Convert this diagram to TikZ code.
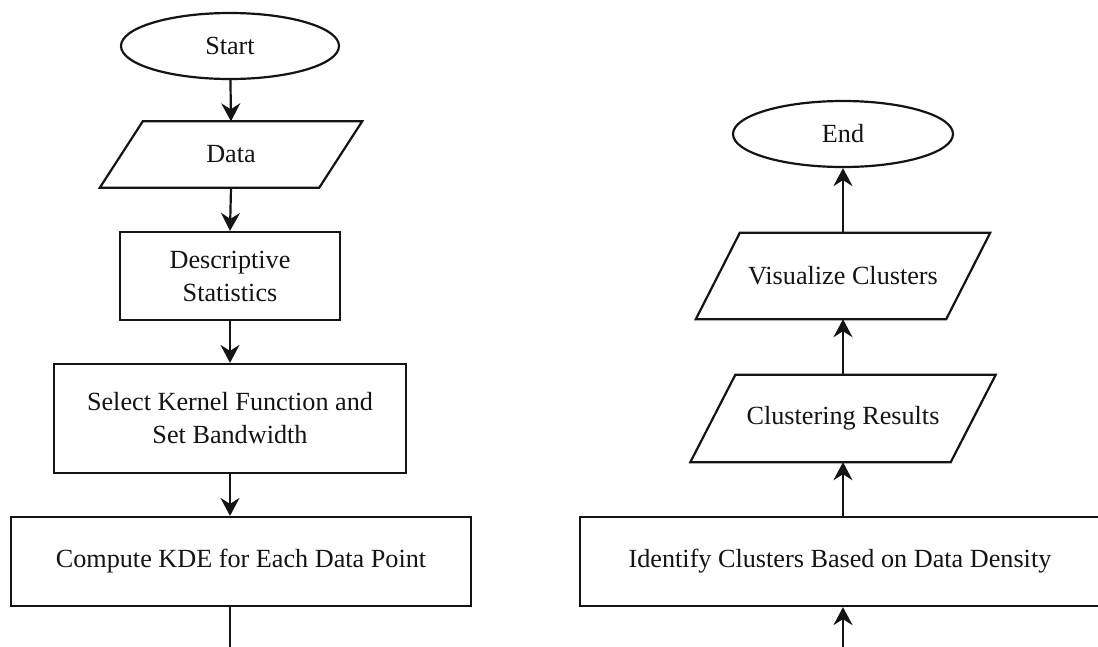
\documentclass[tikz,border=0pt]{standalone}
\usepackage{fontspec}
\setmainfont{Liberation Serif}
\usetikzlibrary{shapes.geometric,arrows.meta}
\definecolor{ink}{HTML}{141414}
\tikzset{
  base/.style={draw=ink, line width=2.2pt, text=ink, inner sep=0pt, align=center,
    font=\fontsize{26.2}{33}\selectfont},
  term/.style={base, ellipse, minimum width=218pt, minimum height=66pt},
  procbox/.style={base, rectangle},
  iobox/.style={rectangle, inner sep=0pt, text=ink, align=center, font=\fontsize{26.2}{33}\selectfont},
  ioline/.style={draw=ink, line width=2.2pt, line join=miter},
  arr/.style={draw=ink, line width=2.2pt, -{Stealth[length=18pt,width=19pt,inset=6pt]}},
  plain/.style={draw=ink, line width=2.2pt}
}
\begin{document}
\begin{tikzpicture}[x=1pt,y=-1pt]
\useasboundingbox (0,0) rectangle (1098,646);
\clip (0,0) rectangle (1098,646);
\fill[white] (0,0) rectangle (1098,646);

% left column
\node[term] (start) at (230,46) {Start};
\node[iobox, minimum width=219pt, minimum height=66pt] (data) at (231,154.5) {Data};
\draw[ioline] ([xshift=21.5pt]data.north west) -- ([xshift=21.5pt]data.north east)
  -- ([xshift=-21.5pt]data.south east) -- ([xshift=-21.5pt]data.south west) -- cycle;
\node[procbox, minimum width=220pt, minimum height=88pt] (desc) at (230,276) {Descriptive\\Statistics};
\node[procbox, minimum width=352pt, minimum height=109pt] (sel) at (230,418.5) {Select Kernel Function and\\Set Bandwidth};
\node[procbox, minimum width=460pt, minimum height=89pt] (comp) at (241,561.5) {Compute KDE for Each Data Point};

% right column
\node[term, minimum width=220pt] (end) at (843,134) {End};
\node[iobox, minimum width=250pt, minimum height=86pt] (vis) at (843,276) {Visualize Clusters};
\draw[ioline] ([xshift=22pt]vis.north west) -- ([xshift=22pt]vis.north east)
  -- ([xshift=-22pt]vis.south east) -- ([xshift=-22pt]vis.south west) -- cycle;
\node[iobox, minimum width=260pt, minimum height=87pt] (clus) at (843,418.5) {Clustering Results};
\draw[ioline] ([xshift=22.5pt]clus.north west) -- ([xshift=22.5pt]clus.north east)
  -- ([xshift=-22.5pt]clus.south east) -- ([xshift=-22.5pt]clus.south west) -- cycle;
\node[procbox, minimum width=520pt, minimum height=89pt] (ident) at (840,561.5) {Identify Clusters Based on Data Density};

% connectors
\draw[arr] (start) -- (data.north);
\draw[arr] (data.south) -- (desc.north);
\draw[arr] (desc.south) -- (sel.north);
\draw[arr] (sel.south) -- (sel.south |- comp.north);
\coordinate (jl) at (230,690);
\coordinate (jr) at (843,690);
\draw[arr] (sel.south |- comp.south) -- (jl) -- (jr) -- (clus.south |- ident.south);
\draw[arr] (clus.south |- ident.north) -- (clus.south);
\draw[arr] (clus.north) -- (vis.south);
\draw[arr] (vis.north) -- (end.south);
\end{tikzpicture}
\end{document}
